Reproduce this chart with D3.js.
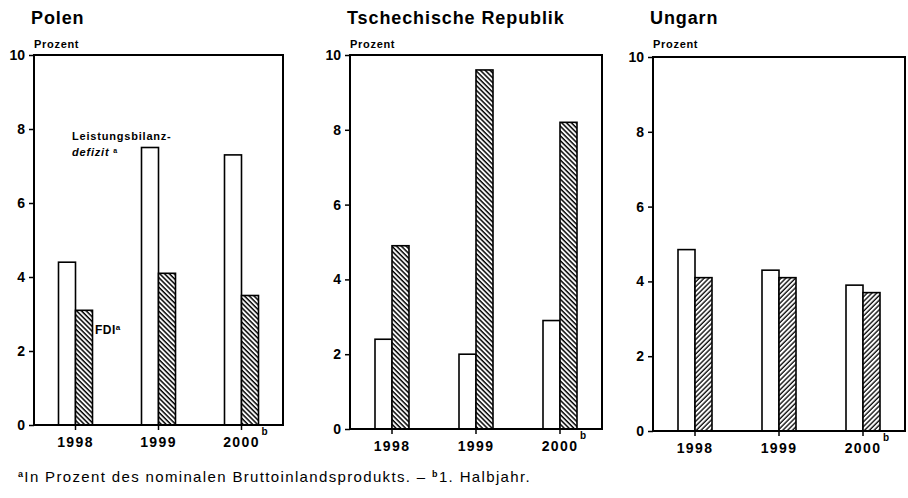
<!DOCTYPE html>
<html>
<head>
<meta charset="utf-8">
<script src="https://cdn.jsdelivr.net/npm/d3@7"></script>
<style>
  body { margin: 0; background: #fff; }
  svg { font-family: "Liberation Sans", Arial, sans-serif; }
</style>
</head>
<body>
<svg id="chart" width="908" height="498"></svg>
<script>
// data (percent of GDP)
var years = ["1998", "1999", "2000"];
var yTicks = [0, 2, 4, 6, 8, 10];

var polenDefizit = [4.4, 7.5, 7.3];
var polenFDI = [3.1, 4.1, 3.5];
var tschechDefizit = [2.4, 2.0, 2.9];
var tschechFDI = [4.9, 9.6, 8.2];
var ungarnDefizit = [4.85, 4.3, 3.9];
var ungarnFDI = [4.1, 4.1, 3.7];

var titles = ["Polen", "Tschechische Republik", "Ungarn"];

// panel frames (layout only)
var panels = [
  {title: titles[0], def: polenDefizit, fdi: polenFDI, x0: 34, x1: 283, y0: 55, y1: 425, hatch: "hatchBack"},
  {title: titles[1], def: tschechDefizit, fdi: tschechFDI, x0: 350, x1: 602, y0: 55, y1: 429, hatch: "hatchBack"},
  {title: titles[2], def: ungarnDefizit, fdi: ungarnFDI, x0: 653, x1: 905, y0: 57, y1: 431, hatch: "hatchFwd"}
];

var svg = d3.select("#chart");
var defs = svg.append("defs");

// hatch patterns: "\\\" for Polen / Tschechien, "///" for Ungarn
function makeHatch(id, angle, width) {
  var p = defs.append("pattern")
    .attr("id", id)
    .attr("patternUnits", "userSpaceOnUse")
    .attr("width", 3.4)
    .attr("height", 3.4)
    .attr("patternTransform", "rotate(" + angle + ")");
  p.append("rect").attr("width", 3.4).attr("height", 3.4).attr("fill", "#fff");
  p.append("line")
    .attr("x1", 1).attr("y1", 0).attr("x2", 1).attr("y2", 3.4)
    .attr("stroke", "#000").attr("stroke-width", width);
}
makeHatch("hatchBack", -45, 1.5);
makeHatch("hatchFwd", 45, 1.3);

panels.forEach(function(p) {
  var g = svg.append("g");

  var x = d3.scaleBand().domain(years).range([p.x0, p.x1]);
  var y = d3.scaleLinear().domain([0, 10]).range([p.y1, p.y0]);
  var bw = 17;

  // title and unit
  g.append("text")
    .attr("x", p.x0 - 3).attr("y", 24)
    .style("font-size", "18px").style("font-weight", "bold")
    .style("letter-spacing", "0.9px")
    .text(p.title);
  g.append("text")
    .attr("x", p.x0).attr("y", 48)
    .style("font-size", "11px").style("font-weight", "bold")
    .style("letter-spacing", "0.7px")
    .text("Prozent");

  // bars
  g.selectAll(".def").data(p.def).enter().append("rect")
    .attr("class", "def")
    .attr("x", function(d, i) { return x(years[i]) + x.bandwidth() / 2 - bw; })
    .attr("y", function(d) { return y(d); })
    .attr("width", bw)
    .attr("height", function(d) { return y(0) - y(d); })
    .attr("fill", "#fff").attr("stroke", "#000").attr("stroke-width", 1.6);

  g.selectAll(".fdi").data(p.fdi).enter().append("rect")
    .attr("class", "fdi")
    .attr("x", function(d, i) { return x(years[i]) + x.bandwidth() / 2; })
    .attr("y", function(d) { return y(d); })
    .attr("width", bw)
    .attr("height", function(d) { return y(0) - y(d); })
    .attr("fill", "url(#" + p.hatch + ")").attr("stroke", "#000").attr("stroke-width", 1.6);

  // frame
  g.append("rect")
    .attr("x", p.x0).attr("y", p.y0)
    .attr("width", p.x1 - p.x0).attr("height", p.y1 - p.y0)
    .attr("fill", "none").attr("stroke", "#000").attr("stroke-width", 2);

  // y axis
  var yAxis = g.append("g")
    .attr("transform", "translate(" + p.x0 + ",0)")
    .call(d3.axisLeft(y).tickValues(yTicks).tickSize(5).tickPadding(4).tickFormat(d3.format("d")));
  yAxis.select(".domain").remove();
  yAxis.selectAll("line").attr("stroke-width", 1.5);
  yAxis.selectAll("text")
    .style("font-size", "14px").style("font-weight", "bold")
    .style("font-family", "Liberation Sans, Arial, sans-serif");

  // x axis
  var xAxis = g.append("g")
    .attr("transform", "translate(0," + p.y1 + ")")
    .call(d3.axisBottom(x).tickSize(5).tickPadding(7));
  xAxis.select(".domain").remove();
  xAxis.selectAll("line").attr("stroke-width", 1.5);
  xAxis.selectAll("text")
    .style("font-size", "14px").style("font-weight", "bold")
    .style("letter-spacing", "1.4px")
    .style("font-family", "Liberation Sans, Arial, sans-serif");

  // footnote mark b at 2000
  g.append("text")
    .attr("x", x("2000") + x.bandwidth() / 2 + 20)
    .attr("y", p.y1 + 10)
    .style("font-size", "10px").style("font-weight", "bold")
    .text("b");
});

// series labels in the Polen panel
var lab = svg.append("g").style("font-weight", "bold");
lab.append("text").attr("x", 72).attr("y", 140).style("font-size", "11px")
  .style("letter-spacing", "0.8px").text("Leistungsbilanz-");
var l2 = lab.append("text").attr("x", 72).attr("y", 156).style("font-size", "11px")
  .style("letter-spacing", "0.8px");
l2.append("tspan").style("font-style", "italic").text("defizit ");
l2.append("tspan").attr("dy", -3).style("font-size", "7px").text("a");
var l3 = lab.append("text").attr("x", 95).attr("y", 334).style("font-size", "12px")
  .style("letter-spacing", "0.5px");
l3.append("tspan").text("FDI");
l3.append("tspan").attr("dy", -4).style("font-size", "8px").text("a");

// footnote
var fn = svg.append("text").attr("x", 18).attr("y", 482)
  .style("font-size", "15px").style("letter-spacing", "1.35px");
fn.append("tspan").attr("dy", -5).style("font-size", "9px").style("font-weight", "bold").text("a");
fn.append("tspan").attr("dy", 5).text("In Prozent des nominalen Bruttoinlandsprodukts. \u2013 ");
fn.append("tspan").attr("dy", -5).style("font-size", "9px").style("font-weight", "bold").text("b");
fn.append("tspan").attr("dy", 5).text("1. Halbjahr.");
</script>
</body>
</html>
